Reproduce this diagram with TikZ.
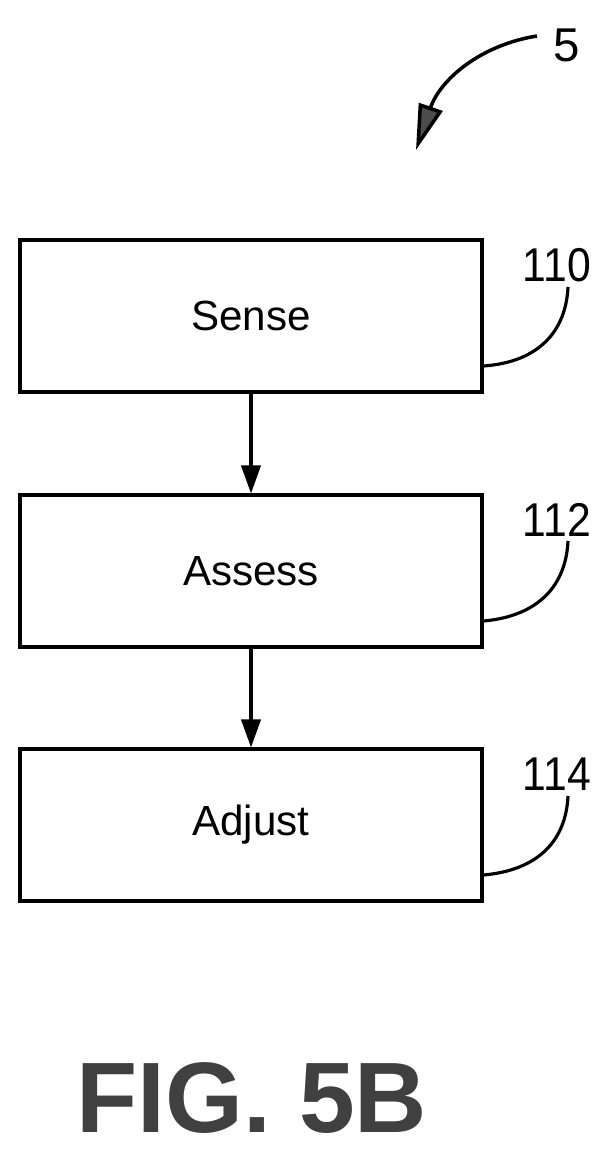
\documentclass[tikz,border=0pt]{standalone}
\usepackage{fontspec}
\setmainfont{Liberation Sans}
\usetikzlibrary{arrows.meta}
\begin{document}
\begin{tikzpicture}[x=0.02cm,y=-0.02cm,
    stage/.style={draw,line width=1.8pt,minimum width=9.24cm,minimum height=3.04cm,font=\fontsize{24}{28}\selectfont},
    ref/.style={font=\fontsize{27}{30}\selectfont},
    flow/.style={line width=1.8pt,-{Triangle[length=16pt,width=11pt]}}]
        \useasboundingbox (0,0) rectangle (609,1163);

        \node[stage] (sense) at (251,316){Sense};
        \node[stage] (assess) at (251,571){Assess};
        \node[stage] (adjust) at (251,825){Adjust};

        \draw[flow] (sense.south)--(assess.north);
        \draw[flow] (assess.south)--(adjust.north);

        \node[ref,xscale=0.9] (r110) at (557,265){110};
        \node[ref,xscale=0.9] (r112) at (557,520){112};
        \node[ref,xscale=0.9] (r114) at (557,774){114};
        \draw[line width=1.8pt] ([yshift=-1.0cm]sense.east) .. controls (540,362) and (566,330) .. (568,287);
        \draw[line width=1.8pt] ([yshift=-1.0cm]assess.east) .. controls (540,616) and (566,584) .. (568,541);
        \draw[line width=1.8pt] ([yshift=-1.0cm]adjust.east) .. controls (540,870) and (566,839) .. (568,796);

        \node[ref] (r5) at (567,45){5};
        \coordinate (tip5) at (416,150);
        \draw[line width=2pt,-{Triangle[length=26pt,width=14pt,fill=black!70]}] (537,36) .. controls (480,45) and (440,80) .. (tip5);

        \node[font=\bfseries\fontsize{57}{60}\selectfont,text=black!75] (fig) at (252,1098){FIG. 5B};
\end{tikzpicture}
\end{document}
